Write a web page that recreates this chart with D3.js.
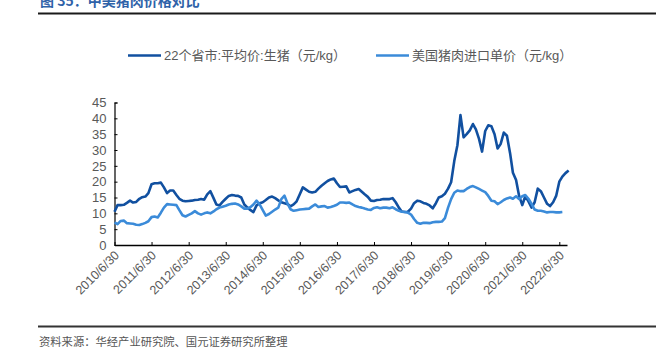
<!DOCTYPE html>
<html>
<head>
<meta charset="utf-8">
<script src="https://cdn.jsdelivr.net/npm/d3@7"></script>
<style>
    body { margin: 0; background: #fff; }
    svg text { font-family: "Liberation Sans", Arial, "Noto Sans CJK SC", sans-serif; }
    .cjk { font-family: "Noto Sans CJK SC", sans-serif; }
</style>
</head>
<body>
<div id="chart"></div>
<script>
// monthly points, first month 2010/6
var FIRST_MONTH = [2010, 5];

var SERIES_NAMES = ["22个省市:平均价:生猪（元/kg）", "美国猪肉进口单价（元/kg）"];

// 22个省市:平均价:生猪
var hogPrice = [
    10.5, 12.6, 12.6, 12.7, 13.3, 14.0, 13.4, 13.6, 14.6, 15.1,
    15.3, 16.4, 19.2, 19.5, 19.5, 19.7, 18.2, 16.4, 17.2, 17.2,
    15.8, 14.6, 14.0, 13.8, 13.9, 14.0, 14.2, 14.3, 14.5, 14.3,
    16.0, 17.0, 14.8, 12.8, 12.5, 13.6, 14.6, 15.5, 15.8, 15.6,
    15.5, 15.0, 12.8, 11.8, 11.0, 10.4, 12.5, 13.2, 13.5, 14.2,
    15.0, 15.3, 14.8, 14.1, 13.5, 13.2, 12.9, 12.2, 12.8, 13.8,
    16.0, 18.2, 17.5, 16.8, 16.6, 16.8, 17.8, 18.7, 19.5, 20.2,
    20.7, 21.0, 19.5, 18.3, 18.4, 18.5, 16.6, 17.0, 17.4, 17.7,
    16.8, 16.0, 15.2, 14.0, 13.9, 14.2, 14.3, 14.5, 14.5, 14.5,
    14.8, 13.5, 11.8, 10.6, 10.4, 10.5, 11.5, 13.2, 14.0, 13.8,
    13.3, 13.0, 12.5, 11.6, 13.2, 15.0, 15.4, 16.2, 17.8, 19.8,
    26.5, 31.5, 41.0, 34.0, 35.0, 36.2, 38.2, 36.5, 33.5, 29.5,
    36.0, 37.8, 37.5, 35.0, 30.5, 32.0, 35.5, 34.5, 29.0, 22.8,
    20.5, 15.5, 12.6, 15.4, 13.8, 11.8, 13.5, 17.8, 17.0, 15.0,
    13.0, 12.3, 13.5, 15.5, 20.0, 21.6, 22.7, 23.5
];

// 美国猪肉进口单价
var usImportPrice = [
    7.1, 6.6, 7.6, 7.7, 6.9, 6.8, 6.7, 6.4, 6.3, 6.6,
    7.0, 7.5, 8.8, 9.0, 8.7, 10.2, 11.8, 12.9, 12.8, 12.7,
    12.6, 11.0, 9.4, 9.0, 9.5, 10.0, 10.7, 10.0, 9.6, 10.0,
    10.3, 10.0, 10.6, 11.3, 11.8, 12.1, 12.4, 12.8, 13.0, 13.1,
    12.8, 12.2, 11.5, 11.5, 12.0, 12.8, 14.0, 12.8, 11.0, 9.3,
    9.8, 10.5, 11.2, 11.8, 14.5, 15.6, 13.0, 11.3, 10.8, 11.0,
    11.2, 11.3, 11.4, 11.5, 12.2, 12.8, 12.0, 12.2, 12.3, 11.8,
    12.0, 12.3, 12.7, 13.4, 13.4, 13.3, 13.4, 12.8, 12.3, 12.0,
    11.8, 11.5, 11.2, 11.1, 11.7, 11.9, 11.6, 11.8, 11.8, 11.6,
    11.9, 11.3, 10.8, 10.5, 10.4, 10.2, 9.6, 8.2, 7.0, 6.7,
    7.0, 7.0, 6.9, 7.2, 7.3, 7.3, 7.4, 8.5, 11.8, 14.5,
    16.5, 17.2, 17.0, 17.0, 17.7, 18.3, 18.6, 18.2, 17.7, 17.2,
    16.7, 15.5, 14.0, 13.8, 12.9, 13.5, 14.2, 14.7, 15.0, 14.6,
    15.4, 14.5, 15.4, 15.8, 14.6, 13.0, 11.2, 10.8, 10.8, 10.6,
    10.3, 10.4, 10.4, 10.3, 10.3, 10.4
];

var Y_TICKS = [0, 5, 10, 15, 20, 25, 30, 35, 40, 45];
var X_TICK_YEARS = [2010, 2011, 2012, 2013, 2014, 2015, 2016, 2017, 2018, 2019, 2020, 2021, 2022];

var COLORS = ["#1150a0", "#3b8bd9"];
var W = 670, H = 359;

function monthDate(i) {
    return new Date(FIRST_MONTH[0], FIRST_MONTH[1] + i, 30);
}

var svg = d3.select("#chart")
    .append("svg")
    .attr("width", W)
    .attr("height", H);

// title (cut off by the page top, as in the source) and rules
svg.append("text")
    .attr("class", "cjk")
    .attr("x", 40)
    .attr("y", 6)
    .attr("font-size", 14)
    .attr("font-weight", "bold")
    .attr("fill", "#2f62a8")
    .text("图 35：中美猪肉价格对比");

svg.append("line")
    .attr("x1", 38).attr("x2", 656)
    .attr("y1", 13.5).attr("y2", 13.5)
    .attr("stroke", "#1a1a1a")
    .attr("stroke-width", 2);

svg.append("line")
    .attr("x1", 38).attr("x2", 656)
    .attr("y1", 326.5).attr("y2", 326.5)
    .attr("stroke", "#333")
    .attr("stroke-width", 2);

svg.append("text")
    .attr("class", "cjk")
    .attr("x", 39)
    .attr("y", 346)
    .attr("font-size", 11.3)
    .attr("fill", "#555")
    .text("资料来源：华经产业研究院、国元证券研究所整理");

// scales: first tick 2010/6/30 at 114.5, last 2022/6/30 at 559.3, axis runs to 567
var tickDates = X_TICK_YEARS.map(function(y){ return new Date(y, 5, 30); });
var xRef = d3.scaleTime()
    .domain([tickDates[0], tickDates[tickDates.length - 1]])
    .range([114.5, 559.3]);
var x = d3.scaleTime()
    .domain([tickDates[0], xRef.invert(567)])
    .range([114.5, 567]);

var y = d3.scaleLinear()
    .domain([0, 45])
    .range([245, 102.5]);

// y axis
var yAxis = svg.append("g")
    .attr("transform", "translate(114.5,0)")
    .call(d3.axisRight(y).tickValues(Y_TICKS).tickSize(3).tickFormat(d3.format("d")));
yAxis.select(".domain").attr("stroke", "#000").attr("stroke-width", 1.2);
yAxis.selectAll(".tick line").attr("stroke", "#000");
yAxis.selectAll(".tick text")
    .attr("x", -8)
    .attr("text-anchor", "end")
    .attr("font-size", 13)
    .attr("fill", "#595959");

// series lines
var line = d3.line()
    .x(function(d, i){ return x(monthDate(i)); })
    .y(function(d){ return y(d); })
    .curve(d3.curveLinear);

[hogPrice, usImportPrice].forEach(function(values, k) {
    svg.append("path")
        .datum(values)
        .attr("fill", "none")
        .attr("stroke", COLORS[k])
        .attr("stroke-width", 2.6)
        .attr("stroke-linejoin", "round")
        .attr("d", line);
});

// x axis, ticks pointing up
var xAxis = svg.append("g")
    .attr("transform", "translate(0,245)")
    .call(d3.axisTop(x).tickValues(tickDates).tickSize(3).tickSizeOuter(0).tickFormat(d3.timeFormat("%Y/%-m/%-d")));
xAxis.select(".domain").attr("stroke", "#000").attr("stroke-width", 1.5);
xAxis.selectAll(".tick line").attr("stroke", "#000");
xAxis.selectAll(".tick text")
    .attr("y", 0)
    .attr("dy", 0)
    .attr("text-anchor", "end")
    .attr("font-size", 12.5)
    .attr("fill", "#595959")
    .attr("transform", "translate(5,11) rotate(-45)");

// legend
var legendX = [128, 376];
SERIES_NAMES.forEach(function(name, k) {
    var g = svg.append("g").attr("transform", "translate(" + legendX[k] + ",55.5)");
    g.append("line")
        .attr("x1", 0).attr("x2", 33)
        .attr("stroke", COLORS[k])
        .attr("stroke-width", 2.6);
    g.append("text")
        .attr("x", 36)
        .attr("dy", "0.35em")
        .attr("font-size", 13)
        .attr("fill", "#595959")
        .text(name);
});
</script>
</body>
</html>
